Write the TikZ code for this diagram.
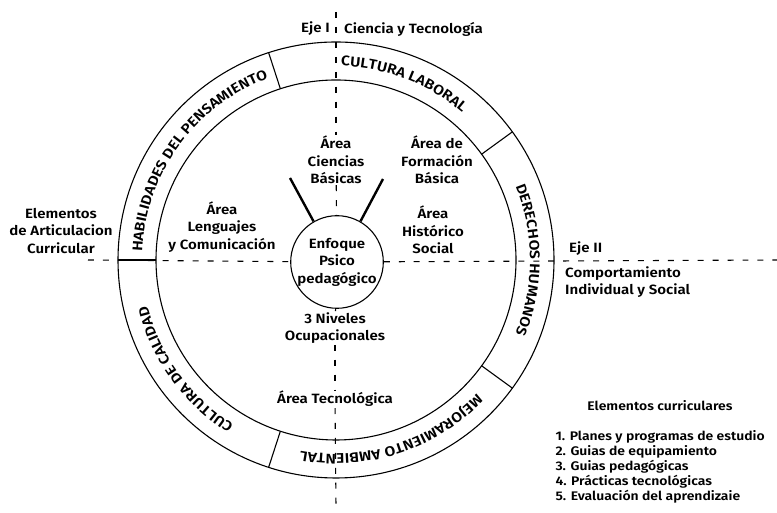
\documentclass[tikz,border=0pt]{standalone}
\usepackage{fontspec}
\setmainfont{Fira Sans}[BoldFont={* SemiBold}, FakeStretch=1.12]
\usepackage{tikz}
\usetikzlibrary{decorations.text}
\newcommand{\ringlabel}[3]{%
  \path[decorate, decoration={text along path, text align=center,
      text={|\fontsize{14}{14}\selectfont\bfseries|#3}}]
    (O) ++(#1:194) arc[start angle=#1, end angle=#2, radius=194];}

\begin{document}
\begin{tikzpicture}[x=1bp, y=1bp,
		txt/.style={font=\fontsize{13.5}{17.5}\selectfont\bfseries, align=center, inner sep=1pt},
		axis/.style={line width=1.1pt, dash pattern=on 6pt off 9pt},
		ring/.style={line width=1.1pt}]
		\useasboundingbox (0,0) rectangle (777,513);
		\coordinate (O) at (336,253);
		% rings and their parts
		\draw[ring] (O) circle[radius=218];
		\draw[ring] (O) circle[radius=180];
		\foreach \a in {108,36,-36,-108}
			\draw[ring] (O) ++(\a:180) -- ++(\a:38);
		\draw[ring] (O) ++(180:180) -- ++(-38,0);
		\ringlabel{105}{33}{CULTURA LABORAL}
		\ringlabel{36}{-36}{DERECHOS HUMANOS}
		\ringlabel{-35}{-109}{MEJORAMIENTO AMBIENTAL}
		\ringlabel{-108}{-180}{CULTURA DE CALIDAD}
		\ringlabel{180}{108}{HABILIDADES DEL PENSAMIENTO}
		% areas
		\node[txt] (ciencias) at (336,353) {Área\\Ciencias\\Básicas};
		\node[txt] (formacion) at (437,353) {Área de\\Formación\\Básica};
		\node[txt] (historico) at (433,283) {Área\\Histórico\\Social};
		\node[txt] (lenguajes) at (222,286) {Área\\Lenguajes\\y Comunicación};
		\node[txt] (niveles) at (335,185) {3 Niveles\\Ocupacionales};
		\node[txt] (tecno) at (335,114) {Área Tecnológica};
		\node[txt, draw, circle, line width=1.1pt, minimum size=92bp, inner sep=0pt] (enfoque) at (337,251) {Enfoque\\Psico\\pedagógico};
		% axes
		\node[txt, anchor=east] (ejeI) at (331,484) {Eje I};
		\node[txt, anchor=west] (ciencia) at (343,484) {Ciencia y Tecnología};
		\node[txt, anchor=west] (ejeII) at (568,264) {Eje II};
		\node[txt, anchor=west, align=left] (comport) at (564,231) {Comportamiento\\Individual y Social};
		\node[txt] (articul) at (61,282) {Elementos\\de Articulacion\\Curricular};
		\coordinate (axT) at (336,501);
		\coordinate (axB) at (336,6);
		\coordinate (axL) at (88,253);
		\coordinate (axR) at (777,253);
		\draw[axis] (axT) -- (ciencias);
		\draw[axis] (ciencias) -- (enfoque);
		\draw[axis] (enfoque) -- (niveles);
		\draw[axis] (niveles) -- (tecno);
		\draw[axis] (tecno) -- (axB);
		\draw[axis] (axL) -- (enfoque);
		\draw[axis] (enfoque) -- (axR);
		\coordinate (stickL) at (290,335);
		\coordinate (stickR) at (383,334);
		\draw[line width=2.4pt] (stickL) -- (enfoque.120);
		\draw[line width=2.4pt] (stickR) -- (enfoque.60);
		% legend
		\node[font=\fontsize{12.5}{15}\selectfont\bfseries] (legtitle) at (660,107) {Elementos curriculares};
		\node[font=\fontsize{12.5}{15}\selectfont\bfseries, align=left, anchor=west] (legend) at (552,46) {1. Planes y programas de estudio\\2. Guias de equipamiento\\3. Guias pedagógicas\\4. Prácticas tecnológicas\\5. Evaluación del aprendizaie};
	\end{tikzpicture}
\end{document}
